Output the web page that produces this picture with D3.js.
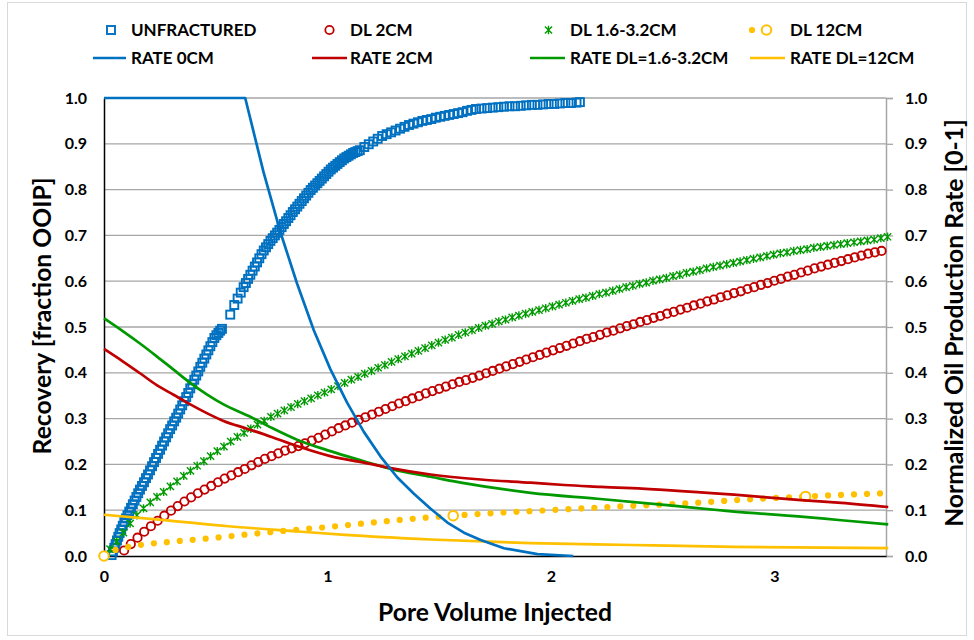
<!DOCTYPE html>
<html>
<head>
<meta charset="utf-8">
<script src="https://cdn.jsdelivr.net/npm/d3@7"></script>
<style>
  html, body { margin: 0; padding: 0; background: #fff; }
  svg { display: block; }
  text { font-family: Lato, "Open Sans", sans-serif; font-weight: 700; fill: #000; }
</style>
</head>
<body>
<svg id="chart" width="974" height="640"></svg>
<script>
// ---- series: [pore volume injected, value] ----
const unfractured = [
  [0.034,0.002],[0.040,0.010],[0.046,0.018],[0.052,0.026],[0.058,0.034],[0.064,0.042],[0.070,0.050],
  [0.077,0.058],[0.084,0.066],[0.091,0.074],[0.098,0.082],[0.105,0.089],[0.113,0.097],[0.121,0.105],
  [0.129,0.113],[0.137,0.121],[0.145,0.129],[0.153,0.137],[0.161,0.145],[0.170,0.153],[0.179,0.161],
  [0.188,0.170],[0.197,0.178],[0.206,0.187],[0.215,0.196],[0.224,0.205],[0.233,0.214],[0.242,0.223],
  [0.251,0.232],[0.260,0.241],[0.269,0.250],[0.278,0.259],[0.287,0.268],[0.296,0.277],[0.305,0.285],
  [0.314,0.294],[0.323,0.302],[0.332,0.311],[0.341,0.320],[0.350,0.329],[0.359,0.338],[0.368,0.347],
  [0.377,0.356],[0.386,0.366],[0.395,0.375],[0.404,0.385],[0.413,0.394],[0.422,0.403],[0.431,0.413],
  [0.440,0.422],[0.449,0.431],[0.458,0.440],[0.467,0.449],[0.476,0.458],[0.485,0.467],[0.494,0.476],
  [0.503,0.482],[0.512,0.487],[0.520,0.492],[0.528,0.496],
  [0.565,0.527],[0.583,0.548],[0.598,0.562],[0.612,0.575],
  [0.625,0.587],[0.635,0.596],[0.645,0.605],[0.655,0.614],[0.665,0.623],[0.675,0.632],[0.685,0.641],
  [0.695,0.650],[0.705,0.659],[0.715,0.667],[0.725,0.674],[0.735,0.681],[0.745,0.688],[0.755,0.694],
  [0.765,0.700],[0.775,0.706],[0.785,0.712],[0.795,0.718],[0.805,0.725],[0.815,0.731],[0.825,0.738],
  [0.835,0.744],[0.845,0.751],[0.855,0.757],[0.865,0.763],[0.875,0.769],[0.885,0.775],[0.895,0.781],
  [0.905,0.787],[0.915,0.793],[0.925,0.799],[0.935,0.804],[0.945,0.809],[0.955,0.814],[0.965,0.819],
  [0.975,0.824],[0.985,0.829],[0.995,0.834],[1.005,0.839],[1.015,0.844],[1.025,0.848],[1.035,0.852],
  [1.045,0.856],[1.055,0.860],[1.065,0.864],[1.075,0.868],[1.085,0.871],[1.095,0.874],[1.105,0.877],
  [1.115,0.880],[1.125,0.882],[1.135,0.884],[1.145,0.886],
  [1.165,0.893],[1.185,0.899],[1.205,0.905],[1.225,0.911],[1.245,0.917],[1.265,0.921],[1.285,0.925],
  [1.305,0.929],[1.325,0.933],[1.345,0.937],[1.365,0.941],[1.385,0.944],[1.405,0.947],[1.425,0.950],
  [1.445,0.952],[1.465,0.954],[1.485,0.957],[1.505,0.959],[1.525,0.961],[1.545,0.963],[1.565,0.965],
  [1.585,0.967],[1.605,0.969],[1.625,0.972],[1.645,0.974],[1.665,0.976],[1.690,0.977],[1.715,0.978],
  [1.740,0.979],[1.765,0.980],[1.790,0.981],[1.815,0.982],[1.840,0.982],[1.865,0.983],[1.890,0.984],
  [1.915,0.985],[1.940,0.985],[1.965,0.986],[1.990,0.987],[2.015,0.987],[2.040,0.988],[2.065,0.989],
  [2.090,0.989],[2.115,0.990],[2.130,0.991]
];

const dl2cm = [
  [0.09,0.012],[0.12,0.026],[0.15,0.040],[0.18,0.053],[0.21,0.065],[0.24,0.077],[0.27,0.088],[0.30,0.099],
  [0.33,0.109],[0.36,0.119],[0.39,0.128],[0.42,0.137],[0.45,0.145],[0.48,0.153],[0.51,0.161],[0.54,0.169],
  [0.57,0.176],[0.60,0.183],[0.63,0.190],[0.66,0.198],[0.69,0.205],[0.72,0.212],[0.75,0.218],[0.78,0.224],
  [0.81,0.230],[0.84,0.235],[0.87,0.240],[0.90,0.246],[0.93,0.252],[0.96,0.258],[0.99,0.265],[1.02,0.272],
  [1.05,0.279],[1.08,0.285],[1.11,0.291],[1.14,0.297],[1.17,0.303],[1.20,0.309],[1.23,0.315],[1.26,0.321],
  [1.29,0.327],[1.32,0.333],[1.35,0.338],[1.38,0.344],[1.41,0.349],[1.44,0.355],[1.47,0.360],[1.50,0.365],
  [1.53,0.370],[1.56,0.375],[1.59,0.380],[1.62,0.384],[1.65,0.389],[1.68,0.394],[1.71,0.399],[1.74,0.404],
  [1.77,0.409],[1.80,0.414],[1.83,0.419],[1.86,0.424],[1.89,0.429],[1.92,0.434],[1.95,0.439],[1.98,0.444],
  [2.01,0.449],[2.04,0.454],[2.07,0.459],[2.10,0.464],[2.13,0.469],[2.16,0.474],[2.19,0.478],[2.22,0.483],
  [2.25,0.488],[2.28,0.492],[2.31,0.497],[2.34,0.502],[2.37,0.506],[2.40,0.511],[2.43,0.515],[2.46,0.520],
  [2.49,0.524],[2.52,0.529],[2.55,0.533],[2.58,0.538],[2.61,0.542],[2.64,0.547],[2.67,0.551],[2.70,0.556],
  [2.73,0.560],[2.76,0.565],[2.79,0.569],[2.82,0.574],[2.85,0.578],[2.88,0.583],[2.91,0.587],[2.94,0.592],
  [2.97,0.596],[3.00,0.601],[3.03,0.605],[3.06,0.610],[3.09,0.614],[3.12,0.619],[3.15,0.623],[3.18,0.628],
  [3.21,0.632],[3.24,0.636],[3.27,0.640],[3.30,0.644],[3.33,0.648],[3.36,0.652],[3.39,0.656],[3.42,0.660],
  [3.45,0.663],[3.48,0.666]
];

const dl16to32cm = [
  [0.027,0.015],[0.057,0.032],[0.087,0.051],[0.117,0.071],[0.147,0.089],[0.177,0.104],[0.207,0.117],
  [0.237,0.129],[0.267,0.140],[0.297,0.152],[0.327,0.163],[0.357,0.175],[0.387,0.186],[0.417,0.197],
  [0.447,0.207],[0.477,0.218],[0.507,0.229],[0.537,0.239],[0.567,0.250],[0.597,0.260],[0.627,0.269],
  [0.657,0.278],[0.687,0.287],[0.717,0.295],[0.747,0.304],[0.777,0.311],[0.807,0.318],[0.837,0.325],
  [0.867,0.332],[0.897,0.338],[0.927,0.344],[0.957,0.351],[0.987,0.357],[1.017,0.364],[1.047,0.371],
  [1.077,0.378],[1.107,0.385],[1.137,0.391],[1.167,0.398],[1.197,0.404],[1.227,0.411],[1.257,0.417],
  [1.287,0.424],[1.317,0.430],[1.347,0.436],[1.377,0.442],[1.407,0.448],[1.437,0.454],[1.467,0.460],
  [1.497,0.466],[1.527,0.472],[1.557,0.477],[1.587,0.483],[1.617,0.488],[1.647,0.493],[1.677,0.498],
  [1.707,0.503],[1.737,0.507],[1.767,0.512],[1.797,0.516],[1.827,0.521],[1.857,0.525],[1.887,0.529],
  [1.917,0.533],[1.947,0.537],[1.977,0.541],[2.007,0.545],[2.037,0.549],[2.067,0.553],[2.097,0.557],
  [2.127,0.561],[2.157,0.564],[2.187,0.568],[2.217,0.572],[2.247,0.575],[2.277,0.579],[2.307,0.583],
  [2.337,0.587],[2.367,0.590],[2.397,0.594],[2.427,0.597],[2.457,0.601],[2.487,0.604],[2.517,0.607],
  [2.547,0.611],[2.577,0.614],[2.607,0.618],[2.637,0.621],[2.667,0.624],[2.697,0.628],[2.727,0.631],
  [2.757,0.634],[2.787,0.637],[2.817,0.640],[2.847,0.643],[2.877,0.646],[2.907,0.649],[2.937,0.652],
  [2.967,0.655],[2.997,0.658],[3.027,0.661],[3.057,0.663],[3.087,0.666],[3.117,0.668],[3.147,0.670],
  [3.177,0.673],[3.207,0.675],[3.237,0.677],[3.267,0.679],[3.297,0.681],[3.327,0.683],[3.357,0.685],
  [3.387,0.687],[3.417,0.689],[3.447,0.691],[3.477,0.694],[3.507,0.697]
];

// DL 12CM: smoothed round-dot line plus its circle markers
const dl12cmCurve = [
  [0,0],[0.05,0.013],[0.10,0.019],[0.16,0.024],[0.30,0.031],[0.50,0.040],[0.70,0.050],[0.90,0.059],
  [1.04,0.065],[1.20,0.073],[1.33,0.079],[1.45,0.084],[1.563,0.088],[1.79,0.095],[2.03,0.101],
  [2.30,0.108],[2.61,0.115],[2.90,0.124],[3.14,0.130],[3.49,0.137]
];
const dl12cmMarkers = [[0,0],[1.563,0.088],[3.14,0.130]];

// normalized oil production rates (secondary axis)
const rate0cm = [
  [0,1.0],[0.632,1.0],[0.714,0.838],[0.789,0.708],[0.864,0.595],[0.939,0.493],[1.013,0.408],
  [1.088,0.335],[1.163,0.271],[1.238,0.217],[1.312,0.172],[1.387,0.136],[1.462,0.103],[1.537,0.073],
  [1.611,0.051],[1.686,0.035],[1.79,0.017],[1.94,0.004],[2.10,0.0]
];
const rate2cm = [
  [0,0.452],[0.087,0.424],[0.161,0.399],[0.236,0.373],[0.311,0.352],[0.386,0.331],[0.46,0.312],
  [0.535,0.295],[0.64,0.278],[0.75,0.260],[0.864,0.240],[1.013,0.218],[1.163,0.204],[1.283,0.192],
  [1.462,0.178],[1.686,0.167],[1.91,0.160],[2.06,0.155],[2.224,0.151],[2.52,0.144],[2.82,0.134],
  [3.12,0.122],[3.30,0.116],[3.51,0.107]
];
const rateDl16to32 = [
  [0,0.519],[0.087,0.490],[0.161,0.464],[0.236,0.436],[0.311,0.407],[0.386,0.378],[0.46,0.353],
  [0.535,0.331],[0.655,0.304],[0.75,0.280],[0.864,0.254],[1.013,0.229],[1.163,0.207],[1.283,0.190],
  [1.462,0.173],[1.611,0.159],[1.91,0.138],[2.209,0.125],[2.52,0.111],[2.82,0.097],[3.12,0.086],
  [3.30,0.078],[3.51,0.069]
];
const rateDl12 = [
  [0,0.090],[0.258,0.079],[0.557,0.065],[0.856,0.054],[1.08,0.046],[1.462,0.036],[1.91,0.028],
  [2.359,0.024],[2.82,0.020],[3.51,0.017]
];

// ---- axes ticks and labels ----
const xTicks = [0, 1, 2, 3];
const yTicks = [0, 0.1, 0.2, 0.3, 0.4, 0.5, 0.6, 0.7, 0.8, 0.9, 1.0];
const xTitle = "Pore Volume Injected";
const yLeftTitle = "Recovery [fraction OOIP]";
const yRightTitle = "Normalized Oil Production Rate [0-1]";
const legendNames = ["UNFRACTURED", "DL 2CM", "DL 1.6-3.2CM", "DL 12CM",
                     "RATE 0CM", "RATE 2CM", "RATE DL=1.6-3.2CM", "RATE DL=12CM"];

// ---- styling ----
const BLUE = "#0070C0", RED = "#C00000", GREEN = "#009A00", GOLD = "#FFC000";
const margin = { left: 104, right: 886, top: 98, bottom: 556 };

const svg = d3.select("#chart");

// chart frame
svg.append("rect")
  .attr("x", 7.5).attr("y", 2.5).attr("width", 959).attr("height", 633)
  .attr("fill", "#fff").attr("stroke", "#d9d9d9").attr("stroke-width", 1);

const x = d3.scaleLinear().domain([0, 3.5]).range([margin.left, margin.right]);
const yL = d3.scaleLinear().domain([0, 1]).range([margin.bottom, margin.top]);
const yR = d3.scaleLinear().domain([0, 1]).range([margin.bottom, margin.top]);

// horizontal gridlines
svg.append("g").selectAll("line").data(yTicks.filter(d => d > 0)).join("line")
  .attr("x1", margin.left).attr("x2", margin.right)
  .attr("y1", d => yL(d)).attr("y2", d => yL(d))
  .attr("stroke", "#a6a6a6").attr("stroke-width", 1.3);

// right axis (gray, outward ticks)
const gR = svg.append("g").attr("transform", `translate(${margin.right},0)`)
  .call(d3.axisRight(yR).tickValues(yTicks).tickFormat(d3.format(".1f")).tickSize(7).tickPadding(12));
gR.select(".domain").attr("stroke", "#a6a6a6").attr("stroke-width", 1.5);
gR.selectAll(".tick line").attr("stroke", "#a6a6a6").attr("stroke-width", 1.3);
gR.selectAll(".tick text").attr("font-size", 16).attr("font-family", "Lato").attr("font-weight", 700).attr("fill", "#000");

// left axis
const gL = svg.append("g").attr("transform", `translate(${margin.left},0)`)
  .call(d3.axisLeft(yL).tickValues(yTicks).tickFormat(d3.format(".1f")).tickSize(0).tickPadding(17));
gL.select(".domain").attr("stroke", "#000").attr("stroke-width", 1.5);
gL.selectAll(".tick text").attr("font-size", 16).attr("font-family", "Lato").attr("font-weight", 700).attr("fill", "#000");

// bottom axis
const gB = svg.append("g").attr("transform", `translate(0,${margin.bottom})`)
  .call(d3.axisBottom(x).tickValues(xTicks).tickFormat(d3.format("d")).tickSize(0).tickPadding(15));
gB.select(".domain").attr("stroke", "#000").attr("stroke-width", 1.5);
gB.selectAll(".tick text").attr("font-size", 16).attr("font-family", "Lato").attr("font-weight", 700).attr("fill", "#000");

// axis titles
svg.append("text").attr("x", (margin.left + margin.right) / 2).attr("y", 621)
  .attr("text-anchor", "middle").attr("font-size", 24.7).text(xTitle);
svg.append("text").attr("transform", `translate(51,316) rotate(-90)`)
  .attr("text-anchor", "middle").attr("font-size", 24.7).text(yLeftTitle);
svg.append("text").attr("transform", `translate(963,323) rotate(-90)`)
  .attr("text-anchor", "middle").attr("font-size", 24.7).text(yRightTitle);

const plot = svg.append("g");
const px = d => x(d[0]);
const pyL = d => yL(d[1]);
const pyR = d => yR(d[1]);

const starPath = "M0,-4.2V4.2M-3.6,-3.6L3.6,3.6M-3.6,3.6L3.6,-3.6";

// UNFRACTURED recovery: open squares
plot.append("g").selectAll("rect").data(unfractured).join("rect")
  .attr("x", d => px(d) - 4).attr("y", d => pyL(d) - 4)
  .attr("width", 8).attr("height", 8)
  .attr("fill", "none").attr("stroke", BLUE).attr("stroke-width", 1.9);

// DL 2CM recovery: open circles
plot.append("g").selectAll("circle").data(dl2cm).join("circle")
  .attr("cx", px).attr("cy", pyL).attr("r", 4.2)
  .attr("fill", "none").attr("stroke", RED).attr("stroke-width", 1.8);

// DL 1.6-3.2CM recovery: star markers
plot.append("g").selectAll("path").data(dl16to32cm).join("path")
  .attr("transform", d => `translate(${px(d)},${pyL(d)})`)
  .attr("d", starPath).attr("fill", "none").attr("stroke", GREEN).attr("stroke-width", 1.4);

// DL 12CM recovery: round-dot smoothed line with open circle markers
plot.append("path").datum(dl12cmCurve)
  .attr("d", d3.line().x(px).y(pyL).curve(d3.curveMonotoneX))
  .attr("fill", "none").attr("stroke", GOLD).attr("stroke-width", 6.2)
  .attr("stroke-linecap", "round").attr("stroke-dasharray", "0 13");
plot.append("g").selectAll("circle").data(dl12cmMarkers).join("circle")
  .attr("cx", px).attr("cy", pyL).attr("r", 4.8)
  .attr("fill", "#fff").attr("stroke", GOLD).attr("stroke-width", 2);

// rate curves on the secondary axis
const rateLines = [
  { data: rateDl12, color: GOLD, curve: d3.curveMonotoneX },
  { data: rateDl16to32, color: GREEN, curve: d3.curveMonotoneX },
  { data: rate2cm, color: RED, curve: d3.curveMonotoneX },
  { data: rate0cm, color: BLUE, curve: d3.curveLinear }
];
rateLines.forEach(r => {
  plot.append("path").datum(r.data)
    .attr("d", d3.line().x(px).y(pyR).curve(r.curve))
    .attr("fill", "none").attr("stroke", r.color).attr("stroke-width", 2.7)
    .attr("stroke-linejoin", "round");
});

// ---- legend ----
const leg = svg.append("g");
const row1 = 30, row2 = 58;
const legText = [
  [131, row1], [350, row1], [570, row1], [790, row1],
  [131, row2], [350, row2], [570, row2], [790, row2]
];
leg.selectAll("text").data(legendNames).join("text")
  .attr("x", (d, i) => legText[i][0]).attr("y", (d, i) => legText[i][1])
  .attr("dy", "0.36em").attr("font-size", 17).text(d => d);

leg.append("rect").attr("x", 107).attr("y", row1 - 4).attr("width", 8).attr("height", 8)
  .attr("fill", "none").attr("stroke", BLUE).attr("stroke-width", 1.9);
leg.append("circle").attr("cx", 329.5).attr("cy", row1).attr("r", 4.2)
  .attr("fill", "none").attr("stroke", RED).attr("stroke-width", 1.8);
leg.append("path").attr("transform", `translate(548.5,${row1})`).attr("d", starPath)
  .attr("fill", "none").attr("stroke", GREEN).attr("stroke-width", 1.4);
leg.append("line").attr("x1", 752).attr("x2", 778).attr("y1", row1).attr("y2", row1)
  .attr("stroke", GOLD).attr("stroke-width", 6.2).attr("stroke-linecap", "round")
  .attr("stroke-dasharray", "0 13");
leg.append("circle").attr("cx", 766.5).attr("cy", row1).attr("r", 4.8)
  .attr("fill", "#fff").attr("stroke", GOLD).attr("stroke-width", 2);

[[93, 126, BLUE], [312, 347, RED], [530, 565, GREEN], [750, 785, GOLD]].forEach(([a, b, c]) => {
  leg.append("line").attr("x1", a).attr("x2", b).attr("y1", row2).attr("y2", row2)
    .attr("stroke", c).attr("stroke-width", 2.7);
});
</script>
</body>
</html>
